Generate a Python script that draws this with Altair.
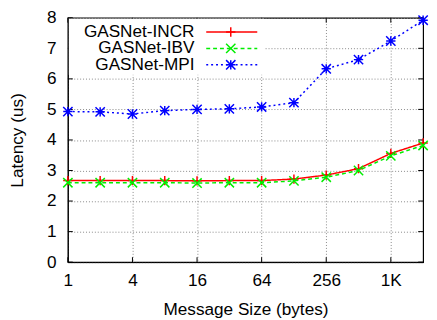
import altair as alt
import pandas as pd

sizes = [1, 2, 4, 8, 16, 32, 64, 128, 256, 512, 1024, 2048]
incr = [2.67, 2.67, 2.67, 2.67, 2.66, 2.67, 2.67, 2.72, 2.85, 3.06, 3.56, 3.90]
ibv = [2.60, 2.60, 2.60, 2.60, 2.59, 2.60, 2.60, 2.66, 2.78, 3.00, 3.48, 3.82]
mpi = [4.93, 4.92, 4.85, 4.96, 5.00, 5.02, 5.08, 5.22, 6.33, 6.63, 7.24, 7.92]

series_names = ["GASNet-INCR", "GASNet-IBV", "GASNet-MPI"]
series_values = [incr, ibv, mpi]
series_colors = ["#ff0000", "#00ee00", "#0000ff"]
series_dash = [[1, 0], [4, 3], [2, 3]]
PLUS = "M-1,0L1,0M0,-1L0,1"
XSYM = "M-1,-1L1,1M-1,1L1,-1"
STAR = PLUS + XSYM
series_shapes = [PLUS, XSYM, STAR]

x_ticks = [1, 4, 16, 64, 256, 1024]
y_ticks = [0, 1, 2, 3, 4, 5, 6, 7, 8]

W, H = 362, 249
FONT = "Liberation Sans"
FS = 17.5

xscale = alt.Scale(type="log", base=2, domain=[1, 2048], nice=False)
yscale = alt.Scale(domain=[0, 8], nice=False, zero=False)

rows = []
for name, vals in zip(series_names, series_values):
    for s, v in zip(sizes, vals):
        rows.append({"size": s, "latency": v, "series": name})
df = pd.DataFrame(rows)

xaxis = alt.Axis(values=x_ticks, labelExpr="datum.value >= 1024 ? (datum.value/1024) + 'K' : datum.value",
                 title="Message Size (bytes)", tickSize=0, labelPadding=10, titlePadding=12,
                 grid=True, gridDash=[1, 2], gridColor="#888888", gridWidth=1,
                 domainColor="black", labelFontSize=FS, titleFontSize=FS, labelFlush=False,
                 labelOverlap=False)
yaxis = alt.Axis(values=y_ticks, title="Latency (us)", tickSize=0, labelPadding=12, titlePadding=20,
                 grid=True, gridDash=[1, 2], gridColor="#888888", gridWidth=1,
                 domainColor="black", labelFontSize=FS, titleFontSize=FS, labelOverlap=False)

X_ = lambda: alt.X("size:Q", scale=xscale, axis=xaxis)
Y_ = lambda: alt.Y("latency:Q", scale=yscale, axis=yaxis)

layers = []

# inward ticks
xt = pd.DataFrame({"size": x_ticks})
yt = pd.DataFrame({"latency": y_ticks})
tick_style = dict(color="black", strokeWidth=1)
layers.append(alt.Chart(xt).mark_rule(**tick_style).encode(
    x=X_(), y=alt.value(H), y2=alt.value(H - 5)))
layers.append(alt.Chart(xt).mark_rule(**tick_style).encode(
    x=X_(), y=alt.value(0), y2=alt.value(5)))
layers.append(alt.Chart(yt).mark_rule(**tick_style).encode(
    y=Y_(), x=alt.value(0), x2=alt.value(5)))
layers.append(alt.Chart(yt).mark_rule(**tick_style).encode(
    y=Y_(), x=alt.value(W - 5), x2=alt.value(W)))

# legend background
layers.append(alt.Chart(pd.DataFrame({"a": [0]})).mark_rect(color="white").encode(
    x=alt.value(1), x2=alt.value(200), y=alt.value(1), y2=alt.value(58)))

for i, (name, color, dash, shape) in enumerate(zip(series_names, series_colors, series_dash, series_shapes)):
    sub = df[df["series"] == name]
    c = alt.Chart(sub)
    layers.append(c.mark_line(color=color, strokeWidth=1.5, strokeDash=dash).encode(x=X_(), y=Y_()))
    layers.append(c.mark_point(shape=shape, color=color, filled=False, size=90, strokeWidth=1.5, opacity=1).encode(
        x=X_(), y=Y_()))
    ly = 14.5 + 16.7 * i
    ld = pd.DataFrame({"name": [name]})
    layers.append(alt.Chart(ld).mark_text(align="right", baseline="middle", fontSize=FS, font=FONT, color="black").encode(
        text="name:N", x=alt.value(129), y=alt.value(ly)))
    layers.append(alt.Chart(ld).mark_rule(color=color, strokeWidth=1.5, strokeDash=dash).encode(
        x=alt.value(141), x2=alt.value(193), y=alt.value(ly)))
    layers.append(alt.Chart(ld).mark_point(shape=shape, color=color, filled=False, size=90, strokeWidth=1.5, opacity=1).encode(
        x=alt.value(166), y=alt.value(ly)))

chart = alt.layer(*layers).properties(
    width=W, height=H,
    autosize=alt.AutoSizeParams(type="none"),
    padding={"left": 61, "top": 7, "right": 6, "bottom": 56},
).configure_view(stroke="black", strokeWidth=1.2).configure_axis(
    labelFont=FONT, titleFont=FONT, labelColor="black", titleColor="black", titleFontWeight="normal"
)

chart.save("out.html", embed_options={"renderer": "svg", "actions": False})
